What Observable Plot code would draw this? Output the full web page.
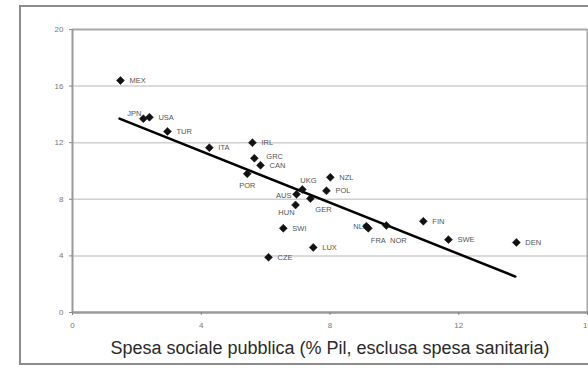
<!DOCTYPE html>
<html>
<head>
<meta charset="utf-8">
<script src="https://cdn.jsdelivr.net/npm/d3@7"></script>
<script src="https://cdn.jsdelivr.net/npm/@observablehq/plot@0.6"></script>
<style>
  html, body { margin: 0; padding: 0; background: #fff; overflow: hidden; }
  #wrap { position: relative; width: 588px; height: 368px; overflow: hidden; }
  #frame { position: absolute; left: 19px; top: 5px; width: 620px; height: 360px; border: 2px solid #8c8c8c; box-sizing: border-box; pointer-events: none; }
  #chart { position: absolute; left: 0; top: 0; }
</style>
</head>
<body>
<div id="wrap"><div id="chart"></div><div id="frame"></div></div>
<script>
const countries = ["MEX","JPN","USA","TUR","ITA","IRL","GRC","CAN","POR","UKG","AUS","NZL","POL","GER","HUN","SWI","LUX","CZE","NLD","FRA","NOR","FIN","SWE","DEN"];
const socialSpending = [1.49,2.2,2.39,2.95,4.25,5.59,5.65,5.84,5.43,7.14,6.96,8.01,7.89,7.39,6.93,6.55,7.48,6.09,9.13,9.19,9.75,10.9,11.68,13.79];
const yValues = [16.4,13.7,13.8,12.8,11.65,12.0,10.9,10.4,9.8,8.7,8.35,9.55,8.6,8.05,7.6,5.95,4.6,3.9,6.1,5.95,6.15,6.45,5.15,4.95];
const trendX = [1.46, 13.76];
const trendY = [13.7, 2.54];
const xTicks = [0, 4, 8, 12, 16];
const yTicks = [0, 4, 8, 12, 16, 20];
const xTitle = "Spesa sociale pubblica (% Pil, esclusa spesa sanitaria)";

const data = countries.map((c, i) => ({name: c, x: socialSpending[i], y: yValues[i]}));
const trend = trendX.map((x, i) => ({x, y: trendY[i]}));

// label placement groups (style only)
const place = {
  JPN: {anchor: "end", dx: -2, dy: -5},
  UKG: {anchor: "start", dx: -2, dy: -9},
  AUS: {anchor: "end", dx: -5, dy: 1},
  HUN: {anchor: "end", dx: -1, dy: 8},
  GER: {anchor: "start", dx: 5, dy: 11},
  POR: {anchor: "middle", dx: 0, dy: 12},
  FRA: {anchor: "middle", dx: 10, dy: 12},
  NOR: {anchor: "middle", dx: 12, dy: 15},
  NLD: {anchor: "end", dx: 2, dy: 0},
  GRC: {anchor: "start", dx: 12, dy: -2},
  CAN: {anchor: "start", dx: 9, dy: 0}
};
const labelMarks = [];
const groups = {};
for (const d of data) {
  const p = place[d.name] || {anchor: "start", dx: 9, dy: 0};
  const key = `${p.anchor}|${p.dx}|${p.dy}`;
  (groups[key] = groups[key] || {p, rows: []}).rows.push(d);
}
for (const k in groups) {
  const {p, rows} = groups[k];
  labelMarks.push(Plot.text(rows, {x: "x", y: "y", text: "name", textAnchor: p.anchor, dx: p.dx, dy: p.dy, fontSize: 7.5, fill: "#555"}));
}

const chart = Plot.plot({
  width: 588,
  height: 368,
  marginLeft: 72,
  marginRight: 1,
  marginTop: 29,
  marginBottom: 56,
  style: {fontFamily: "'Liberation Sans', Arial, sans-serif", background: "transparent", overflow: "visible"},
  x: {domain: [0, 16]},
  y: {domain: [0, 20]},
  marks: [
    Plot.ruleY(yTicks.filter(t => t > 0 && t < 20), {stroke: "#cfcfcf", strokeWidth: 1.5}),
    Plot.ruleY([20], {stroke: "#a8a8a8", strokeWidth: 2}),
    Plot.ruleX([16], {stroke: "#a8a8a8", strokeWidth: 2}),
    Plot.ruleX([0], {stroke: "#999", strokeWidth: 2}),
    Plot.ruleY([0], {stroke: "#999", strokeWidth: 2.5}),
    Plot.axisX({ticks: xTicks, tickSize: 3, tickPadding: 7, fontSize: 8, color: "#777", stroke: "#888", label: null}),
    Plot.axisY({ticks: yTicks, tickSize: 3, tickPadding: 6, fontSize: 8, color: "#777", stroke: "#888", label: null}),
    Plot.line(trend, {x: "x", y: "y", stroke: "#000", strokeWidth: 2.5}),
    ...labelMarks,
    Plot.dot(data, {x: "x", y: "y", symbol: "diamond2", r: 3.6, fill: "#111", stroke: "#111", strokeWidth: 0.5}),
    Plot.text([xTitle], {frameAnchor: "bottom", dy: 41, fontSize: 18, fill: "#2a2a2a"})
  ]
});
document.getElementById("chart").appendChild(chart);
</script>
</body>
</html>
